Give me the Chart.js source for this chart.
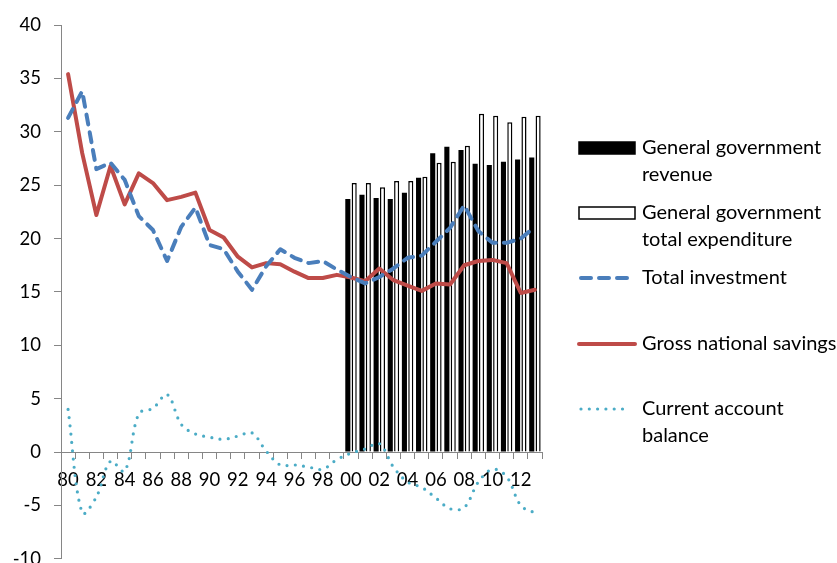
<!DOCTYPE html>
<html>
<head>
<meta charset="utf-8">
<script src="https://cdn.jsdelivr.net/npm/chart.js@4.4.0/dist/chart.umd.min.js"></script>
<style>
  html, body { margin: 0; padding: 0; overflow: hidden; background: #fff; }
  #wrap { position: absolute; left: 0; top: 0; width: 837px; height: 583px; }
</style>
</head>
<body>
<div id="wrap"><canvas id="chart"></canvas></div>
<script>
// Data
const years = ['80', '81', '82', '83', '84', '85', '86', '87', '88', '89',
  '90', '91', '92', '93', '94', '95', '96', '97', '98', '99',
  '00', '01', '02', '03', '04', '05', '06', '07', '08', '09',
  '10', '11', '12', '13'];

const yTicks = [-10, -5, 0, 5, 10, 15, 20, 25, 30, 35, 40];

// government bars only from 2000 onwards
const revenue = [null, null, null, null, null, null, null, null, null, null,
  null, null, null, null, null, null, null, null, null, null,
  23.7, 24.1, 23.8, 23.7, 24.3, 25.7, 28.0, 28.6, 28.3, 27.0,
  26.9, 27.2, 27.4, 27.6];

const expenditure = [null, null, null, null, null, null, null, null, null, null,
  null, null, null, null, null, null, null, null, null, null,
  25.2, 25.2, 24.8, 25.4, 25.4, 25.8, 27.1, 27.2, 28.7, 31.7,
  31.5, 30.9, 31.4, 31.5];

const investment = [31.3, 33.8, 26.5, 27.1, 25.5, 22.1, 20.8, 17.9, 21.1, 22.9,
  19.4, 19.0, 16.9, 15.2, 17.4, 19.0, 18.2, 17.7, 17.9, 17.1,
  16.4, 15.8, 16.4, 17.2, 18.2, 18.4, 19.7, 21.0, 23.1, 20.7,
  19.6, 19.6, 20.0, 21.1];

const savings = [35.4, 28.0, 22.2, 26.8, 23.2, 26.1, 25.2, 23.6, 23.9, 24.3,
  20.8, 20.1, 18.3, 17.3, 17.7, 17.6, 16.9, 16.3, 16.3, 16.6,
  16.35, 16.0, 17.2, 16.1, 15.6, 15.1, 15.8, 15.7, 17.5, 17.9,
  18.0, 17.7, 14.9, 15.2];

const currentAccount = [4.0, -5.7, -4.2, -0.85, -1.8, 3.6, 4.1, 5.4, 2.6, 1.7,
  1.4, 1.2, 1.5, 1.8, 0.1, -1.2, -1.2, -1.4, -1.6, -0.7,
  -0.1, 0.3, 0.8, -1.4, -2.8, -3.3, -4.3, -5.3, -5.2, -2.8,
  -1.6, -2.3, -5.0, -5.7];

const legendItems = [
  { ds: 0, lines: ['General government', 'revenue'], y: 148 },
  { ds: 1, lines: ['General government', 'total expenditure'], y: 213 },
  { ds: 2, lines: ['Total investment'], y: 278 },
  { ds: 3, lines: ['Gross national savings'], y: 344 },
  { ds: 4, lines: ['Current account', 'balance'], y: 409 }
];

const FONT = 'Lato';

// Legend drawn to the right of the plot
const sideLegend = {
  id: 'sideLegend',
  afterDraw(chart) {
    const ctx = chart.ctx;
    const x0 = 579, x1 = 635, tx = 642, lineH = 27;
    ctx.save();
    ctx.font = '20px ' + FONT;
    ctx.textBaseline = 'middle';
    legendItems.forEach(item => {
      const ds = chart.data.datasets[item.ds];
      const y = item.y;
      if (ds.type === 'bar') {
        ctx.fillStyle = ds.backgroundColor;
        ctx.fillRect(x0, y - 6, x1 - x0, 12);
        ctx.lineWidth = 1.5;
        ctx.strokeStyle = ds.borderColor;
        ctx.strokeRect(x0, y - 6, x1 - x0, 12);
      } else {
        const dashed = ds.borderDash && ds.borderDash.length;
        ctx.beginPath();
        ctx.strokeStyle = ds.borderColor;
        ctx.lineWidth = ds.borderWidth;
        ctx.lineCap = ds.borderCapStyle || 'butt';
        ctx.setLineDash(ds.borderDash || []);
        ctx.moveTo(x0 + (dashed ? 2 : 0), y);
        ctx.lineTo(dashed ? x1 - 6 : x1, y);
        ctx.stroke();
        ctx.setLineDash([]);
      }
      ctx.fillStyle = '#000';
      item.lines.forEach((t, i) => ctx.fillText(t, tx, y + i * lineH));
    });
    ctx.restore();
  }
};

function initChart() {
  Chart.defaults.font.family = FONT;
  Chart.defaults.font.size = 18.5;
  Chart.defaults.color = '#000';

  new Chart(document.getElementById('chart'), {
    type: 'bar',
    data: {
      labels: years,
      datasets: [
        {
          type: 'bar',
          label: 'General government revenue',
          data: revenue,
          backgroundColor: '#000000',
          borderColor: '#000000',
          borderWidth: 0,
          categoryPercentage: 0.9,
          barPercentage: 0.8,
          order: 2
        },
        {
          type: 'bar',
          label: 'General government total expenditure',
          data: expenditure,
          backgroundColor: '#ffffff',
          borderColor: '#000000',
          borderWidth: 1.5,
          categoryPercentage: 0.9,
          barPercentage: 0.8,
          order: 2
        },
        {
          type: 'line',
          label: 'Total investment',
          data: investment,
          borderColor: '#4a7ebb',
          borderWidth: 4,
          borderDash: [10, 8],
          borderCapStyle: 'round',
          borderJoinStyle: 'round',
          pointRadius: 0,
          tension: 0,
          order: 1
        },
        {
          type: 'line',
          label: 'Gross national savings',
          data: savings,
          borderColor: '#be4b48',
          borderWidth: 4,
          borderCapStyle: 'round',
          borderJoinStyle: 'round',
          pointRadius: 0,
          tension: 0,
          order: 1
        },
        {
          type: 'line',
          label: 'Current account balance',
          data: currentAccount,
          borderColor: '#4bacc6',
          borderWidth: 3.2,
          borderDash: [0, 8.3],
          borderCapStyle: 'round',
          pointRadius: 0,
          tension: 0.35,
          order: 0
        }
      ]
    },
    options: {
      responsive: true,
      maintainAspectRatio: false,
      animation: false,
      layout: {
        padding: { left: 0, right: 295, top: 25, bottom: 15 }
      },
      plugins: {
        legend: { display: false },
        tooltip: { enabled: false }
      },
      scales: {
        x: {
          position: { y: 0 },
          offset: true,
          grid: { drawOnChartArea: false, offset: true, tickLength: 6, color: '#868686' },
          border: { color: '#868686', width: 1 },
          ticks: {
            autoSkip: false,
            maxRotation: 0,
            padding: 11,
            callback: (v, i) => (i % 2 === 0 ? years[i] : '')
          }
        },
        y: {
          min: yTicks[0],
          max: yTicks[yTicks.length - 1],
          afterBuildTicks: s => { s.ticks = yTicks.map(v => ({ value: v })); },
          afterFit: s => { s.width = 61; },
          grid: { drawOnChartArea: false, tickLength: 7, color: '#868686' },
          border: { color: '#868686', width: 1 },
          ticks: { padding: 13 }
        }
      }
    },
    plugins: [sideLegend]
  });
}

document.addEventListener('DOMContentLoaded', initChart);
</script>
</body>
</html>
